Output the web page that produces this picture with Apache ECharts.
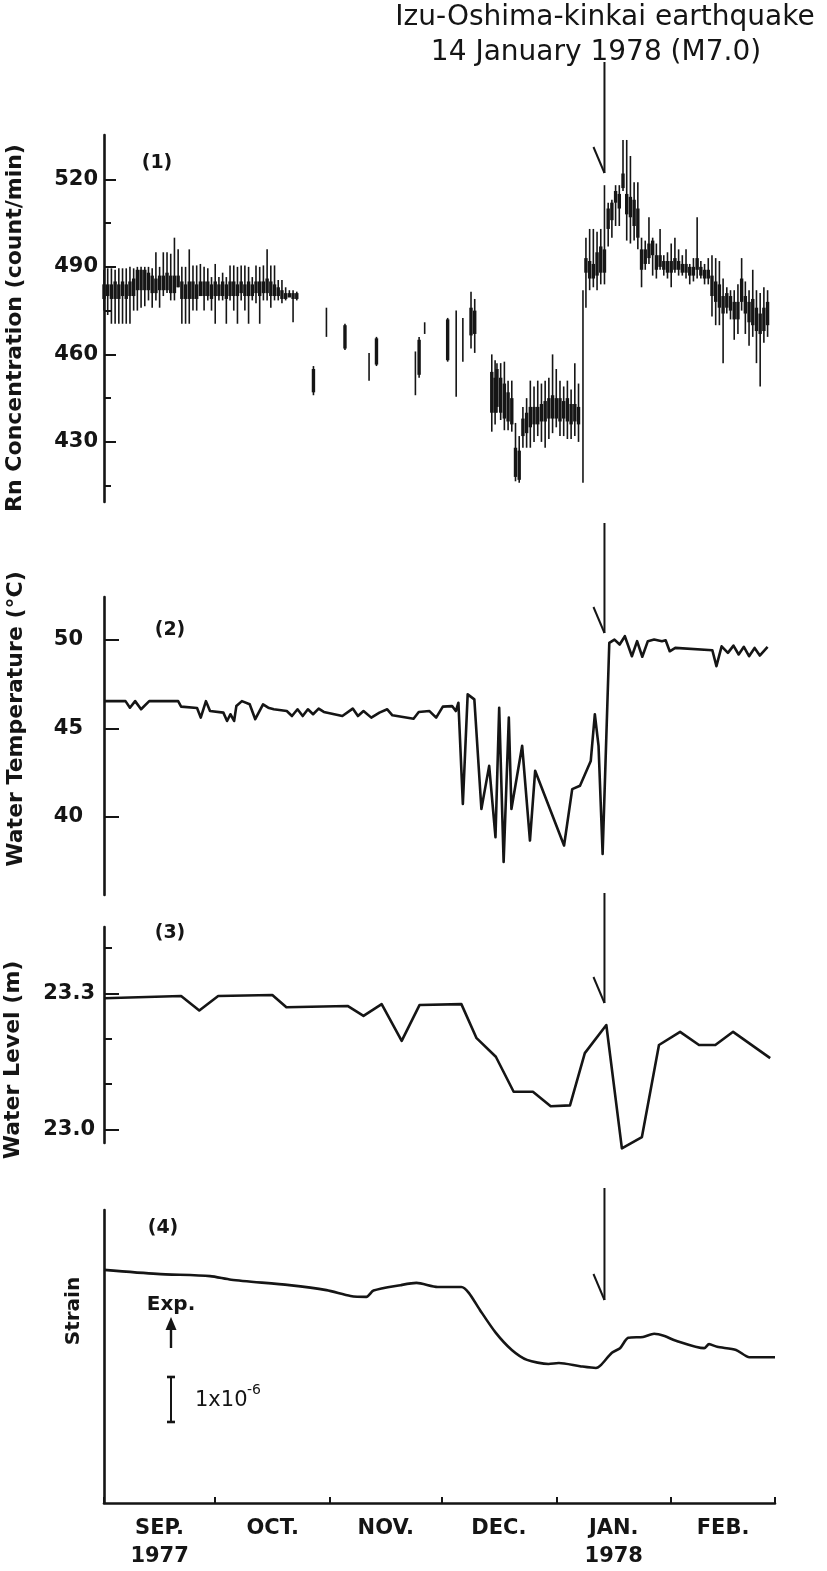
<!DOCTYPE html>
<html><head><meta charset="utf-8">
<script src="https://cdn.jsdelivr.net/npm/echarts@6/dist/echarts.min.js"></script>
<style>html,body{margin:0;padding:0;background:#fff}#c{width:827px;height:1571px}</style>
</head><body><div id="c"></div>
<script>
// ---- x axis: days since 1 Sep 1977 ----
const monthBounds = [0, 30, 61, 91, 122, 153, 181];
const monthMid = [15, 45.5, 76, 106.5, 137.5, 167];
const monthText = ['SEP.\n1977', 'OCT.', 'NOV.', 'DEC.', 'JAN.\n1978', 'FEB.'];
const quakeDay = 135; // 14 January 1978

// ---- (1) Rn concentration: [day, low, high, coreLow, coreHigh] ----
const rnSepOct = [
 [0,475,489,479,484],[1,473.5,489.5,480,484],[2,470.5,489.5,479,484],[3,470.5,489,479,485],
 [4,470.5,489.5,479,484],[5,470.5,489.5,480,485],[6,470.5,489.5,479,484],[7,470.5,490,480,485],
 [8,475,489.5,480,486],[9,475,490,482,489],[10,476,490,482,489],[11,476.5,490,482,489],
 [12,478.5,490,482,488],[13,476,489.5,481,487],[14,478.5,495,481,486],[15,476,490,482,487],
 [16,480,495,482,487],[17,481,495,482,488],[18,478.5,494.5,481,487],[19,478.5,500,481,487],
 [20,483,496,483,487],[21,470.5,490,479,485],[22,470.5,490,479,484],[23,470.5,496,479,485],
 [24,475,490.5,479,485],[25,475,490.5,479,484],[26,480,491,480,485],[27,475,490,480,485],
 [28,478.5,489.5,480,485],[29,475,486.5,479,484],[30,470.5,491,480,485],[31,478.5,486.5,480,484],
 [32,478.5,488,480,485],[33,470.5,486.5,479,484],[34,478.5,490.5,480,485],[35,475,490.5,480,485],
 [36,470.5,490,480,484],[37,478.5,490.5,481,485],[38,475,490.5,480,484],[39,470.5,490,480,485],
 [40,478.5,486.5,480,484],[41,477.5,490.5,481,485],[42,470.5,490,480,485],[43,478.5,490.5,481,485],
 [44,478.5,496,481,486],[45,476,490.5,480,485],[46,478.5,490.5,480,484],[47,478.5,485.5,480,483],
 [48,477.5,485.5,479,482],[49,478.5,483,479,481],[50,480,482,479.5,481],[51,471,482,479,481],
 [52,478.5,481.5,479,481]
];
const rnOctDec = [
 [56.5,446,456,447,455],[60,466,476,466,466],[65,461.5,470.5,462,470],[71.5,451,460.5,451,451],
 [73.5,456,466,456.5,465.5],[84,446,461,446,446],[85,452,466,453,465],[86.5,467,471,467,467],
 [92.7,457.5,472.5,458,472],[95,445.5,475,445.5,445.5],[96.8,457.5,472.5,457.5,457.5],
 [99,462,481.5,466.5,476],[100,460.5,479,467,475]
];
const rnDecFeb = [
 [104.6,433.5,460,440,454],[105.5,436,458,440,452],[106,440,457,442,455],[107,437.5,457,440,452],
 [108,434,457.5,438,450],[109,434,451,437,447],[110,433.5,451,436,445],[111,416.5,436.5,418,428],
 [112,416,432,417,427],[113,428,442,432,438],[114,428,445,433,440],[115,428,451,435,442],
 [116,430,449,436,442],[117,432,451,436,442],[118,430,450,437,443],[119,428,451,437,444],
 [120,431,452,438,445],[121,433,460,438,446],[122,435,455,438,445],[123,432,451,437,445],
 [124,432,449,438,444],[125,431,451,437,445],[126,431,448,436,443],[127,432,457,437,443],
 [128,430,450,436,442],[129.2,416,482,416,416],
 [130,476,500,488,493],[131,482,503,486,492],[132,483,503,486,491],[133,482,502,487,495],
 [134,484,503,488,497],[135,484,518,488,496],[136,497,512,503,510],[137,500,513,506,512],
 [138,504,518,512,516],[139,504,518,510,515],[140,516,533.5,517,522],[141,499,533.5,508,515],
 [142,498,528,507,514],[143,499,519,504,513],[144,496,519,500,510],[145,483,500,489,496],
 [146,489,499,491,496],[147,491,507,493,498],[148,487,500,494,499],[149,486,498,489,494],
 [150,489,503,490,494],[151,487,494,489,492],[152,486,495,488,492],[153,483,498,488,492],
 [154,488,500,489,493],[155,487,496,489,492],[156,487,494,488,491],[157,486,496,488,491],
 [158,484,491,487,490],[159,485,493,487,490],[160,486,507,489,493],[161,486,492,487,490],
 [162,484,491,486,489],[163,484,493,486,489],[164,473,494,480,487],[165,470,493,478,485],
 [166,470,492,476,484],[167,457,486,474,480],[168,474,483,476,481],[169,472,482,475,480],
 [170,465,482,472,478],[171,467,484,472,478],[172,475,493,478,486],[173,467,485,474,480],
 [174,463,482,471,478],[175,466,489,470,479],[176,457,482,468,476],[177,449,481,467,474],
 [178,464,483,468,476],[179,466,482,470,478]
];
const rnTicks = [430, 460, 490, 520];
const rnMinorTicks = [415, 445, 475, 505];

// ---- (2) water temperature ----
const tempDays = [0,5.8,7.0,8.4,10.0,12.2,20.0,20.8,25.1,26.1,27.5,28.6,32.2,33.2,34.1,35.1,35.7,37.2,39.3,40.8,42.9,44.3,45.8,49.3,50.7,52.2,53.6,55.0,56.4,57.9,59.3,64.3,67.1,68.5,70.0,72.1,74.3,76.4,77.8,83.5,84.9,87.8,89.6,91.4,93.9,94.9,95.6,96.8,98.1,99.9,101.8,103.9,105.6,106.6,107.8,109.2,109.9,112.8,114.9,116.3,124.1,126.3,128.4,131.3,132.4,133.4,134.5,136.3,137.7,139.1,140.5,142.4,143.8,145.2,146.7,148.4,150.5,151.5,152.6,154.1,164.1,165.2,166.6,168.3,169.8,171.2,172.6,174.0,175.5,176.9,179.0];
const tempVals = [46.53,46.53,46.16,46.53,46.07,46.53,46.53,46.22,46.14,45.60,46.53,45.97,45.88,45.41,45.79,45.41,46.25,46.53,46.35,45.51,46.35,46.16,46.07,45.97,45.69,46.07,45.69,46.07,45.79,46.11,45.92,45.69,46.11,45.69,45.97,45.60,45.88,46.07,45.73,45.54,45.92,45.97,45.60,46.22,46.25,45.97,46.44,40.73,46.91,46.63,40.45,42.88,38.86,46.16,37.46,45.60,40.45,44.01,38.67,42.60,38.39,41.57,41.76,43.16,45.79,44.01,37.92,49.81,50.00,49.72,50.19,49.06,49.91,49.03,49.91,50.00,49.91,49.96,49.34,49.53,49.40,48.50,49.62,49.25,49.66,49.16,49.59,49.06,49.53,49.10,49.59];
const tempTicks = [40, 45, 50];

// ---- (3) water level ----
const levelDays = [0,20.8,25.7,30.8,45.4,49.2,65.7,70.0,74.9,80.3,85.1,96.4,100.5,105.7,110.5,115.7,120.5,125.7,129.7,135.5,139.7,145.1,149.7,155.4,160.5,164.9,169.7,179.7];
const levelVals = [23.289,23.294,23.262,23.294,23.296,23.269,23.272,23.250,23.276,23.195,23.274,23.276,23.201,23.160,23.083,23.083,23.051,23.053,23.168,23.230,22.958,22.983,23.186,23.215,23.186,23.186,23.215,23.157];
const levelTicks = [23.0, 23.3];
const levelMinorTicks = [23.1, 23.2, 23.4];

// ---- (4) strain (units of 1e-6, relative) ----
const strainDays = [0,14.3,28.6,34.3,50.0,60.0,66.5,70.8,72.7,80.0,84.3,90.0,96.4,98.4,101.4,105.7,110.0,114.1,119.9,122.7,128.4,132.7,134.1,137.0,139.2,141.4,145.4,148.4,151.2,154.1,161.9,163.2,165.4,170.5,174.1,176.9,181];
const strainVals = [5.18,5.09,5.04,4.96,4.84,4.73,4.60,4.58,4.72,4.84,4.89,4.80,4.80,4.67,4.29,3.78,3.40,3.18,3.09,3.11,3.04,3.00,3.07,3.34,3.44,3.67,3.69,3.76,3.71,3.61,3.44,3.53,3.47,3.40,3.24,3.24,3.24];
const strainScaleBar = [[18.07, 1.8, 2.8]]; // 1x10^-6 bar

const INK = '#151515';
const FONT = 'DejaVu Sans';
const chart = echarts.init(document.getElementById('c'));

const pairs = (xs, ys) => xs.map((x, i) => [x, ys[i]]);
const grid = (top, height) => ({left: 104, right: 52, top, height, containLabel: false});
const xAx = (gi, show) => ({
  type: 'value', gridIndex: gi, min: 0, max: 181, show,
  splitLine: {show: false},
  axisLine: {show, onZero: false, lineStyle: {color: INK, width: 2.6}},
  axisTick: {show, inside: true, length: 6, customValues: monthBounds, lineStyle: {color: INK, width: 2}},
  axisLabel: {show, customValues: monthMid, margin: 12, lineHeight: 28, verticalAlign: 'top',
    color: INK, fontFamily: FONT, fontWeight: 'bold', fontSize: 21,
    formatter: v => { const i = monthMid.indexOf(v); return i >= 0 ? monthText[i] : ''; }}
});
const yAx = (gi, min, max, o) => ({
  type: 'value', gridIndex: gi, min, max, position: 'left',
  splitLine: {show: false},
  axisLine: {show: o.line !== false, onZero: false, lineStyle: {color: INK, width: 2.6}},
  axisTick: o.ticks ? {show: true, inside: true, length: o.len, customValues: o.ticks, lineStyle: {color: INK, width: 2}} : {show: false},
  axisLabel: o.labels ? {show: true, customValues: o.ticks, margin: o.margin, color: INK, fontFamily: FONT,
    fontWeight: 'bold', fontSize: 21, formatter: o.fmt || (v => String(v))} : {show: false}
});

const rnAll = rnSepOct.concat(rnOctDec, rnDecFeb);

chart.setOption({
  animation: false,
  backgroundColor: '#fff',
  grid: [grid(135, 367), grid(597, 298), grid(927, 216), grid(1210, 293)],
  xAxis: [xAx(0, false), xAx(1, false), xAx(2, false), xAx(3, true)],
  yAxis: [
    yAx(0, 409.4, 535.2, {ticks: rnTicks, len: 12, labels: true, margin: 6}),
    yAx(0, 409.4, 535.2, {line: false, ticks: rnMinorTicks, len: 7}),
    yAx(1, 35.6, 52.4, {ticks: tempTicks, len: 15, labels: true, margin: 21}),
    yAx(2, 22.97, 23.446, {ticks: levelTicks, len: 15, labels: true, margin: 9, fmt: v => v.toFixed(1)}),
    yAx(2, 22.97, 23.446, {line: false, ticks: levelMinorTicks, len: 8}),
    yAx(3, 0, 6.51, {})
  ],
  series: [
    {
      type: 'custom', xAxisIndex: 0, yAxisIndex: 0, data: rnAll,
      encode: {x: 0, y: [1, 2, 3, 4]},
      renderItem: (params, api) => {
        const d = api.value(0);
        const a = api.coord([d, api.value(1)]), b = api.coord([d, api.value(2)]);
        const c1 = api.coord([d, api.value(3)]), c2 = api.coord([d, api.value(4)]);
        return {type: 'group', children: [
          {type: 'line', shape: {x1: a[0], y1: a[1], x2: b[0], y2: b[1]}, style: {stroke: INK, lineWidth: 1.6}},
          {type: 'line', shape: {x1: c1[0], y1: c1[1], x2: c2[0], y2: c2[1]}, style: {stroke: INK, lineWidth: 3.4, lineCap: 'butt'}}
        ]};
      }
    },
    {type: 'line', xAxisIndex: 1, yAxisIndex: 2, data: pairs(tempDays, tempVals), showSymbol: false,
      lineStyle: {color: INK, width: 2.6, join: 'round'}},
    {type: 'line', xAxisIndex: 2, yAxisIndex: 3, data: pairs(levelDays, levelVals), showSymbol: false, clip: false,
      lineStyle: {color: INK, width: 2.6, join: 'round'}},
    {type: 'line', xAxisIndex: 3, yAxisIndex: 5, data: pairs(strainDays, strainVals), showSymbol: false, smooth: 0.25,
      lineStyle: {color: INK, width: 2.6, join: 'round'}},
    {
      type: 'custom', xAxisIndex: 3, yAxisIndex: 5, data: strainScaleBar, encode: {x: 0, y: [1, 2]},
      renderItem: (params, api) => {
        const d = api.value(0);
        const a = api.coord([d, api.value(1)]), b = api.coord([d, api.value(2)]);
        const s = {stroke: INK, lineWidth: 2};
        return {type: 'group', children: [
          {type: 'line', shape: {x1: a[0], y1: a[1], x2: b[0], y2: b[1]}, style: s},
          {type: 'line', shape: {x1: a[0] - 4, y1: a[1], x2: a[0] + 4, y2: a[1]}, style: {stroke: INK, lineWidth: 2.6}},
          {type: 'line', shape: {x1: b[0] - 4, y1: b[1], x2: b[0] + 4, y2: b[1]}, style: {stroke: INK, lineWidth: 2.6}}
        ]};
      }
    }
  ]
});

const qx = chart.convertToPixel({xAxisIndex: 0}, quakeDay);
const arrowSpans = [[62, 173], [523, 633], [893, 1003], [1188, 1300]];
const g = [];
arrowSpans.forEach(([y1, tip]) => {
  g.push({type: 'line', shape: {x1: qx, y1, x2: qx, y2: tip}, style: {stroke: INK, lineWidth: 2}});
  g.push({type: 'line', shape: {x1: qx - 11, y1: tip - 26, x2: qx, y2: tip}, style: {stroke: INK, lineWidth: 2}});
});
const txt = (x, y, text, size, weight, extra) => Object.assign({type: 'text', x, y,
  style: {text, fill: INK, font: `${weight} ${size}px "${FONT}"`, textAlign: 'center', textVerticalAlign: 'middle'}}, extra || {});
g.push(txt(605, 18, 'Izu-Oshima-kinkai earthquake', 28, 'normal'));
g.push(txt(596, 53, '14 January 1978 (M7.0)', 28, 'normal'));
g.push(txt(157, 163, '(1)', 19, 'bold'));
g.push(txt(170, 630, '(2)', 19, 'bold'));
g.push(txt(170, 933, '(3)', 19, 'bold'));
g.push(txt(163, 1228, '(4)', 19, 'bold'));
g.push(txt(15, 328, 'Rn Concentration (count/min)', 22, 'bold', {rotation: Math.PI / 2}));
g.push(txt(16, 719, 'Water Temperature (°C)', 22, 'bold', {rotation: Math.PI / 2}));
g.push(txt(13, 1060, 'Water Level (m)', 22, 'bold', {rotation: Math.PI / 2}));
g.push(txt(74, 1311, 'Strain', 20, 'bold', {rotation: Math.PI / 2}));
g.push(txt(171, 1305, 'Exp.', 20, 'bold'));
g.push({type: 'line', shape: {x1: 171, y1: 1348, x2: 171, y2: 1326}, style: {stroke: INK, lineWidth: 2.4}});
g.push({type: 'polygon', shape: {points: [[171, 1317], [165.5, 1330], [176.5, 1330]]}, style: {fill: INK}});
g.push(Object.assign(txt(195, 1401, '1x10', 21, 'normal'), {}));
g[g.length - 1].style.textAlign = 'left';
g.push(txt(247, 1390, '-6', 14, 'normal'));
g[g.length - 1].style.textAlign = 'left';
chart.setOption({graphic: g});
</script>
</body></html>
